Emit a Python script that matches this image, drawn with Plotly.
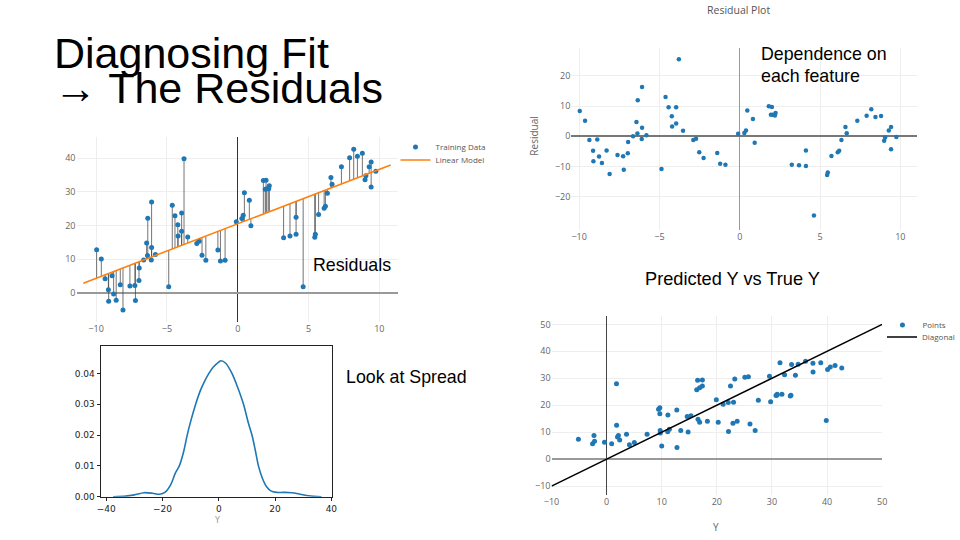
import plotly.graph_objects as go

# ---------------- data ----------------
feature_x = [-9.96, -9.63, -9.36, -8.87, -9.13, -9.11, -8.76, -8.58, -8.29, -8.10,
             -7.61, -7.26, -7.22, -6.97, -6.95, -6.64, -6.43, -6.37, -6.35, -6.08,
             -6.08, -6.10, -5.81, -4.87, -4.62, -4.43, -4.23, -4.21, -3.96, -3.96,
             -3.79, -3.53, -2.89, -2.72, -2.52, -2.25, -1.40, -1.22, -0.89, -0.10,
             0.29, 0.39, 0.47, 0.82, 0.93, 1.81, 2.00, 1.94, 2.06, 2.19,
             2.23, 3.24, 3.69, 4.12, 4.12, 4.62, 5.44, 5.48, 5.71, 6.10,
             6.19, 6.33, 6.58, 6.66, 7.32, 7.90, 8.19, 8.45, 8.80, 8.99,
             9.05, 9.28, 9.42, 9.42, 9.75]
residual = [8.4, 5.1, -1.2, -1.1, -4.8, -8.3, -6.7, -8.8, -4.7, -12.5,
            -6.2, -6.6, -11.1, -5.6, -1.9, 0.0, 4.7, 0.9, 11.9, 16.3,
            2.8, -0.9, 0.3, -10.8, 13.0, 9.6, 6.6, 3.2, 9.6, 4.2,
            25.5, 1.8, -1.2, -0.8, -5.3, -7.2, -5.5, -9.1, -9.4, 0.8,
            1.1, 1.9, 8.5, 5.7, -2.1, 9.9, 9.7, 7.1, 7.1, 6.9,
            7.7, -9.4, -9.6, -4.7, -9.8, -26.2, -12.8, -12.0, -6.5, -5.3,
            -4.8, -1.2, 3.1, 1.0, 5.1, 6.8, 8.9, 6.4, 6.7, -1.5,
            -0.4, 1.9, 3.1, -4.3, -0.2]

# fitted linear model
model_intercept = 20.5
model_slope = 1.62
model_x_ends = [-10.9, 10.8]

# density of the residuals
kde_x = [-37.5, -33, -30, -26.5, -23.5, -21, -19, -17, -15.5, -14, -12.5, -11.2,
         -9.8, -8.2, -6.5, -5, -3.5, -2, 0, 0.8, 2.5, 4.7, 6.5, 8.8, 10.5, 11.8,
         13, 14.1, 15.5, 17, 18.5, 20.5, 23, 26, 29, 32, 36.5]
kde_y = [0.0, 0.0002, 0.0006, 0.0013, 0.0011, 0.0008, 0.0015, 0.0040, 0.0075, 0.0100,
         0.0145, 0.0200, 0.0250, 0.0300, 0.0345, 0.0375, 0.0400, 0.0420, 0.0437, 0.0441,
         0.0433, 0.0400, 0.0360, 0.0300, 0.0240, 0.0200, 0.0150, 0.0100, 0.0060, 0.0032,
         0.0019, 0.0014, 0.0014, 0.0013, 0.0008, 0.0003, 0.0]

diag_ends = [-10, 50]

# derived values
predicted = [model_intercept + model_slope * x for x in feature_x]
y_true = [p + r for p, r in zip(predicted, residual)]
model_y_ends = [model_intercept + model_slope * x for x in model_x_ends]

seg_x, seg_y = [], []
for x, yt, yp in zip(feature_x, y_true, predicted):
    seg_x += [x, x, None]
    seg_y += [yt, yp, None]

# ---------------- layout helpers ----------------
W, H = 960, 540
def px(x):
    return x / W
def py(y):
    return 1 - y / H

BLUE = "rgb(31,119,180)"
ORANGE = "rgb(255,127,14)"
PFONT = dict(family="Open Sans, DejaVu Sans, sans-serif", size=9, color="#666")
MFONT = dict(family="DejaVu Sans, sans-serif", size=9, color="#222")
LFONT = dict(family="Open Sans, DejaVu Sans, sans-serif", size=8, color="#555")
TFONT = "Liberation Sans, Arial, sans-serif"

fig = go.Figure()

# top-left: data + model + residual segments
fig.add_trace(go.Scatter(x=seg_x, y=seg_y, mode="lines", xaxis="x", yaxis="y",
                         line=dict(color="rgba(70,70,70,0.75)", width=1),
                         showlegend=False, hoverinfo="skip"))
fig.add_trace(go.Scatter(x=feature_x, y=y_true, mode="markers", xaxis="x", yaxis="y",
                         name="Training Data", marker=dict(color=BLUE, size=5),
                         legend="legend"))
fig.add_trace(go.Scatter(x=model_x_ends, y=model_y_ends, mode="lines", xaxis="x", yaxis="y",
                         name="Linear Model", line=dict(color=ORANGE, width=1.6),
                         legend="legend3"))

# top-right: residual plot
fig.add_trace(go.Scatter(x=feature_x, y=residual, mode="markers", xaxis="x2", yaxis="y2",
                         marker=dict(color=BLUE, size=4.5), showlegend=False))

# bottom-left: density
fig.add_trace(go.Scatter(x=kde_x, y=kde_y, mode="lines", xaxis="x3", yaxis="y3",
                         line=dict(color="#1f77b4", width=1.6, shape="spline", smoothing=0.8),
                         showlegend=False))

# bottom-right: predicted vs true
fig.add_trace(go.Scatter(x=y_true, y=predicted, mode="markers", xaxis="x4", yaxis="y4",
                         name="Points", marker=dict(color=BLUE, size=5), legend="legend2"))
fig.add_trace(go.Scatter(x=diag_ends, y=diag_ends, mode="lines", xaxis="x4", yaxis="y4",
                         name="Diagonal", line=dict(color="black", width=1.5), legend="legend4"))

def plotly_axis(dom, rng, tickvals, zc, zw, anchor):
    return dict(domain=dom, range=rng, tickvals=tickvals, showgrid=True, gridcolor="#eeeeee",
                zeroline=True, zerolinecolor=zc, zerolinewidth=zw, showline=False,
                ticks="", tickfont=PFONT, anchor=anchor)

def leg(x, y):
    return dict(x=px(x), y=py(y), xanchor="left", yanchor="top", font=LFONT,
                bgcolor="rgba(0,0,0,0)", itemwidth=30, tracegroupgap=0)

fig.update_layout(
    width=W, height=H, margin=dict(l=0, r=0, t=0, b=0),
    paper_bgcolor="white", plot_bgcolor="white", template="none",
    xaxis=plotly_axis([px(77), px(400)], [-11.38, 11.28], [-10, -5, 0, 5, 10], "#333", 1, "y"),
    yaxis=plotly_axis([py(322), py(137)], [-8.7, 46.3], [0, 10, 20, 30, 40], "#999", 2, "x"),
    xaxis2=plotly_axis([px(575), px(923)], [-10.48, 11.05], [-10, -5, 0, 5, 10], "#999", 1, "y2"),
    yaxis2=plotly_axis([py(230), py(48)], [-31.0, 29.2], [-20, -10, 0, 10, 20], "#777", 1.5, "x2"),
    xaxis4=plotly_axis([px(555), px(887.7)], [-10, 50], [-10, 0, 10, 20, 30, 40, 50], "#444", 1, "y4"),
    yaxis4=plotly_axis([py(495), py(316)], [-13.3, 53.1], [-10, 0, 10, 20, 30, 40, 50], "#999", 1.5, "x4"),
    xaxis3=dict(domain=[px(101.7), px(334)], range=[-41.8, 40.2], tickvals=[-40, -20, 0, 20, 40],
                showgrid=False, zeroline=False, showline=True, mirror=True, linecolor="#222",
                linewidth=1, ticks="outside", ticklen=3.5, tickcolor="#222", tickfont=MFONT,
                anchor="y3"),
    yaxis3=dict(domain=[py(496.7), py(346)], range=[0, 0.0489],
                tickvals=[0, 0.01, 0.02, 0.03, 0.04], tickformat=".2f",
                showgrid=False, zeroline=False, showline=True, mirror=True, linecolor="#222",
                linewidth=1, ticks="outside", ticklen=3.5, tickcolor="#222", tickfont=MFONT,
                anchor="x3"),
    legend=leg(398, 132.5),
    legend3=leg(398, 145.5),
    legend2=leg(888, 310.5),
    legend4=leg(888, 322.5),
    showlegend=True,
)

def note(text, x, y, size, color="black", family=TFONT, xanchor="left", yanchor="middle", angle=0):
    fig.add_annotation(text=text, x=px(x), y=py(y), xref="paper", yref="paper",
                       xanchor=xanchor, yanchor=yanchor, showarrow=False, textangle=angle,
                       font=dict(family=family, size=size, color=color))

note("Diagnosing Fit", 52, 53, 43)
note("\u2192 The Residuals", 52, 88, 43)
note("Residual Plot", 743, 10, 10.5, color="#555",
     family="Open Sans, DejaVu Sans, sans-serif", xanchor="center")
note("Dependence on", 764, 54, 17.8)
note("each feature", 764, 76, 17.8)
note("Residuals", 313, 265, 17.8)
note("Predicted Y vs True Y", 647, 279, 18.2)
note("Look at Spread", 346, 377, 17.8)
note("Residual", 537, 136, 10, color="#666",
     family="Open Sans, DejaVu Sans, sans-serif", xanchor="center", angle=-90)
note("Y", 721, 527, 10, color="#666",
     family="Open Sans, DejaVu Sans, sans-serif", xanchor="center")
note("Y", 218, 520, 8, color="#999", family="DejaVu Sans, sans-serif", xanchor="center")

fig.write_html("out.html", config={"displayModeBar": False},
               post_script="document.body.style.margin='0';document.body.style.overflow='hidden';")
